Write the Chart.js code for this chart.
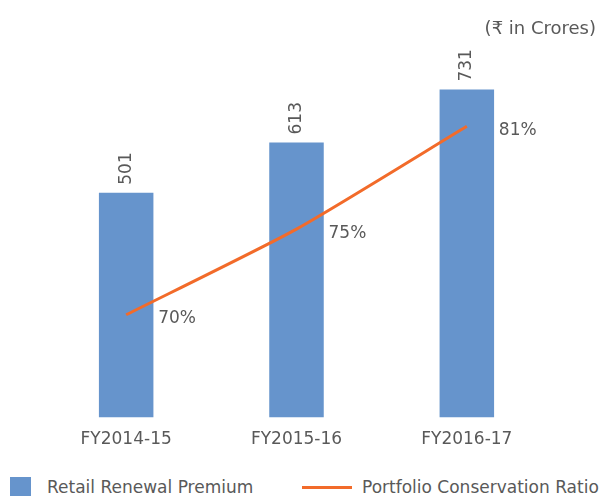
<!DOCTYPE html>
<html>
<head>
<meta charset="utf-8">
<script src="https://cdn.jsdelivr.net/npm/chart.js@4.4.1/dist/chart.umd.min.js"></script>
<style>
  body { margin: 0; background: #fff; }
  #wrap { position: relative; width: 599px; height: 496px; overflow: hidden; }
  #chart { position: absolute; left: 0; top: 0; }
  .leg { position: absolute; top: 477px; font: 17px "DejaVu Sans", sans-serif; color: #595959; }
  .leg span { position: absolute; white-space: nowrap; }
</style>
</head>
<body>
<div id="wrap">
  <canvas id="chart" width="599" height="454"></canvas>
  <div class="leg" id="legend"></div>
</div>
<script>
const years = ["FY2014-15", "FY2015-16", "FY2016-17"];
const renewal = [501, 613, 731];
const conservation = [70, 75, 81];

const barColor = "#6694CC";
const lineColor = "#F26B2A";
const textColor = "#595959";
const font = '"DejaVu Sans", sans-serif';

// draws the value labels next to bars and line points
const labels = {
    id: "labels",
    afterDatasetsDraw(chart) {
        const ctx = chart.ctx;
        ctx.save();
        ctx.fillStyle = textColor;
        ctx.font = "17px " + font;
        chart.getDatasetMeta(1).data.forEach((bar, i) => {
            ctx.save();
            ctx.translate(bar.x, bar.y - 8);
            ctx.rotate(-Math.PI / 2);
            ctx.textAlign = "left";
            ctx.textBaseline = "middle";
            ctx.fillText(renewal[i], 0, 0);
            ctx.restore();
        });
        chart.getDatasetMeta(0).data.forEach((pt, i) => {
            ctx.textAlign = "left";
            ctx.textBaseline = "middle";
            ctx.fillText(conservation[i] + "%", pt.x + 32, pt.y + 4);
        });
        ctx.restore();
    }
};

const chart = new Chart(document.getElementById("chart"), {
    data: {
        labels: years,
        datasets: [
            {
                type: "line",
                label: "Portfolio Conservation Ratio",
                data: conservation,
                yAxisID: "y1",
                borderColor: lineColor,
                backgroundColor: lineColor,
                borderWidth: 3,
                pointRadius: 0,
                tension: 0.2,
                order: 0
            },
            {
                type: "bar",
                label: "Retail Renewal Premium",
                data: renewal,
                yAxisID: "y",
                backgroundColor: barColor,
                barPercentage: 0.32,
                categoryPercentage: 1,
                order: 1
            }
        ]
    },
    plugins: [labels],
    options: {
        responsive: false,
        animation: false,
        layout: { padding: { top: 0, right: 3, bottom: 0, left: 0 } },
        plugins: {
            legend: { display: false },
            tooltip: { enabled: false },
            title: {
                display: true,
                text: "(₹ in Crores)",
                align: "end",
                color: textColor,
                font: { family: font, size: 18, weight: "normal" },
                padding: { top: 19, bottom: 0 }
            }
        },
        scales: {
            x: {
                grid: { display: false },
                border: { display: false },
                ticks: { color: textColor, font: { family: font, size: 17 }, padding: 4 }
            },
            y: {
                position: "left",
                min: 0,
                max: 840,
                grid: { display: false },
                border: { display: false },
                ticks: { display: false },
                afterFit(s) { s.width = 41; }
            },
            y1: {
                position: "right",
                min: 64,
                max: 86,
                grid: { display: false },
                border: { display: false },
                ticks: { display: false },
                afterFit(s) { s.width = 44; }
            }
        }
    }
});

// legend below the canvas
const legend = document.getElementById("legend");
legend.innerHTML =
    '<span style="left:10px;top:0;width:21px;height:21px;background:' + barColor + '"></span>' +
    '<span style="left:47px;top:0">' + chart.data.datasets[1].label + '</span>' +
    '<span style="left:302px;top:9px;width:50px;height:3px;background:' + lineColor + '"></span>' +
    '<span style="left:362px;top:0">' + chart.data.datasets[0].label + '</span>';
</script>
</body>
</html>
